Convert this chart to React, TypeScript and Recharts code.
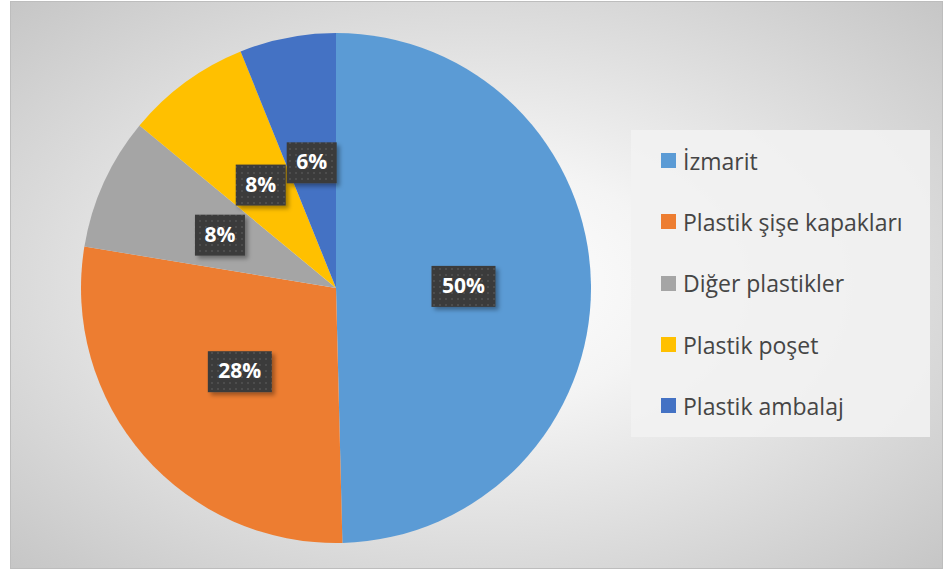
import React from 'react';
import { PieChart, Pie, Cell, Legend } from 'recharts';

const categories = ['İzmarit', 'Plastik şişe kapakları', 'Diğer plastikler', 'Plastik poşet', 'Plastik ambalaj'];
const shares = [49.6, 28.0, 8.4, 7.9, 6.1];
const COLORS = ['#5b9bd5', '#ed7d31', '#a5a5a5', '#ffc000', '#4472c4'];

const data = categories.map((name, i) => ({ name, value: shares[i] }));

const RAD = Math.PI / 180;

const renderLabel = (props: any) => {
  const { cx, cy, midAngle, outerRadius, percent } = props;
  const r = outerRadius * 0.5;
  const x = cx + r * Math.cos(-midAngle * RAD);
  const y = cy + r * Math.sin(-midAngle * RAD);
  const text = `${Math.round(percent * 100)}%`;
  const w = text.length > 2 ? 64 : 50;
  const h = 41;
  return (
    <g>
      <rect x={x - w / 2} y={y - h / 2} width={w} height={h} fill="url(#lblPattern)" filter="url(#lblShadow)" />
      <text
        x={x}
        y={y + 1}
        textAnchor="middle"
        dominantBaseline="middle"
        fill="#ffffff"
        fontFamily="'Open Sans', sans-serif"
        fontWeight={700}
        fontSize={21}
      >
        {text}
      </text>
    </g>
  );
};

const LegendBox = () => (
  <div
    style={{
      width: 299,
      height: 307,
      background: 'rgba(242,242,242,0.9)',
      boxSizing: 'border-box',
      paddingTop: 0,
      paddingLeft: 30,
    }}
  >
    {data.map((d, i) => (
      <div key={d.name} style={{ display: 'flex', alignItems: 'center', height: 61.3 }}>
        <span style={{ width: 15, height: 15, background: COLORS[i], display: 'inline-block', marginRight: 7 }} />
        <span style={{ fontFamily: "'Open Sans', sans-serif", fontSize: 23, color: '#454545', lineHeight: '24px' }}>
          {d.name}
        </span>
      </div>
    ))}
  </div>
);

export default function App() {
  return (
    <div
      style={{
        position: 'absolute',
        left: 10,
        top: 1,
        width: 933,
        height: 568,
        boxSizing: 'border-box',
        border: '1px solid #bdbdbd',
        background: 'radial-gradient(ellipse farthest-corner at 50% 50%, #ffffff 0%, #f4f4f4 30%, #c6c6c6 100%)',
      }}
    >
      <PieChart width={931} height={566}>
        <defs>
          <pattern id="lblPattern" width="6" height="6" patternUnits="userSpaceOnUse">
            <rect width="6" height="6" fill="#3b3b3b" />
            <rect x="2" y="2" width="2" height="2" fill="#4d4d4d" />
          </pattern>
          <filter id="lblShadow" x="-20%" y="-20%" width="150%" height="150%">
            <feDropShadow dx="3" dy="3" stdDeviation="2" floodColor="#000" floodOpacity="0.35" />
          </filter>
        </defs>
        <Pie
          data={data}
          dataKey="value"
          nameKey="name"
          cx={320}
          cy={281}
          outerRadius={255}
          startAngle={90}
          endAngle={-270}
          stroke="none"
          label={renderLabel}
          labelLine={false}
          isAnimationActive={false}
        >
          {data.map((entry, index) => (
            <Cell key={`cell-${index}`} fill={COLORS[index % COLORS.length]} />
          ))}
        </Pie>
        <Legend content={<LegendBox />} wrapperStyle={{ left: 620, top: 128, width: 299 }} />
      </PieChart>
    </div>
  );
}
